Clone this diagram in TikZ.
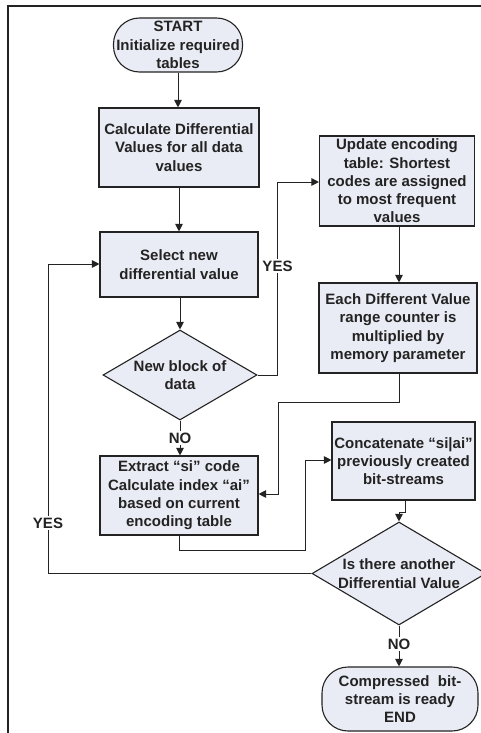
\documentclass[tikz,border=0pt]{standalone}
\usepackage{fontspec}
\setmainfont{Liberation Sans}
\usetikzlibrary{arrows.meta,shapes.geometric}
\definecolor{boxfill}{RGB}{233,236,244}
\definecolor{ink}{RGB}{35,35,35}
\begin{document}
\begin{tikzpicture}[x=1pt,y=-1pt,
  every node/.style={font=\bfseries\fontsize{15}{18.3}\selectfont, text=ink},
  procbox/.style={draw=ink, fill=boxfill, line width=1.1pt, align=center, inner sep=0pt},
  termbox/.style={procbox, rounded corners=26pt},
  decbox/.style={draw=ink, fill=boxfill, line width=1.1pt, shape=diamond, inner sep=0pt},
  txt/.style={align=center, inner sep=0pt},
  lbl/.style={fill=white, inner sep=1.5pt},
  conn/.style={draw=ink, line width=0.9pt},
  arr/.style={conn, -{Triangle[length=7.5pt,width=7.5pt]}}]

\useasboundingbox (0,0) rectangle (481,733);
\fill[white] (0,0) rectangle (481,733);

% page frame (top and left edges)
\draw[ink, line width=1.4pt] (481,6) -- (8,6) -- (8,733);

% left column
\node[termbox, minimum width=129pt, minimum height=54pt] (start) at (178,45)
  {START\\Initialize required\\tables};
\node[procbox, minimum width=160pt, minimum height=79pt] (calc) at (179,147.5)
  {Calculate Differential\\Values for all data\\values};
\node[procbox, minimum width=158pt, minimum height=65pt] (select) at (179,264.5)
  {Select new\\differential value};
\node[decbox, minimum width=154pt, minimum height=90pt] (blk) at (180,375) {};
\node[txt] (blktxt) at (blk) {New block of\\data};
\node[procbox, minimum width=158pt, minimum height=79pt] (extract) at (179,495.5)
  {Extract “si” code\\Calculate index “ai”\\based on current\\encoding table};

% right column
\node[procbox, minimum width=155pt, minimum height=90pt] (update) at (397,181)
  {Update encoding\\table: Shortest\\codes are assigned\\to most frequent\\values};
\node[procbox, minimum width=158pt, minimum height=90pt] (each) at (398,328)
  {Each Different Value\\range counter is\\multiplied by\\memory parameter};
\node[procbox, minimum width=143pt, minimum height=78pt] (concat) at (403.5,461)
  {Concatenate “si|ai”\\previously created\\bit-streams};
\node[decbox, minimum width=174pt, minimum height=103pt] (more) at (399,573.5) {};
\node[txt] (moretxt) at (more) {Is there another\\Differential Value};
\node[termbox, minimum width=156pt, minimum height=64pt] (finish) at (400,699)
  {Compressed\ \ bit-\\stream is ready\\END};

% junction points of the routed connectors
\coordinate (y1) at (277,375);
\coordinate (y2) at (277,182);
\coordinate (e1) at (399,402);
\coordinate (e2) at (278,402);
\coordinate (e3) at (278,494);
\coordinate (x1) at (179,550);
\coordinate (x2) at (305,550);
\coordinate (x3) at (305,460);
\coordinate (c1) at (405,512);
\coordinate (c2) at (399,512);
\coordinate (m1) at (48,573.5);
\coordinate (m2) at (48,264);

% straight flow
\draw[arr] (start.south) -- (start.south |- calc.north);
\draw[arr] (calc.south) -- (calc.south |- select.north);
\draw[arr] (select.south -| blk.north) -- (blk.north);
\draw[arr] (blk.south) -- (blk.south |- extract.north);
\draw[arr] (update.south -| e1) -- (e1 |- each.north);
\draw[arr] (more.south) -- (more.south |- finish.north);

% routed connectors
\draw[arr] (blk.east) -- (y1) -- (y2) -- (y2 -| update.west);
\draw[arr] (each.south -| e1) -- (e1) -- (e2) -- (e3) -- (e3 -| extract.east);
\draw[arr] (extract.south -| x1) -- (x1) -- (x2) -- (x3) -- (x3 -| concat.west);
\draw[arr] (concat.south -| c1) -- (c1) -- (c2) -- (more.north);
\draw[arr] (more.west) -- (m1) -- (m2) -- (m2 -| select.west);

% branch labels
\node[lbl] (yes1) at (277.5,266) {YES};
\node[lbl] (no1) at (blk.south |- 0,438) {NO};
\node[lbl] (yes2) at (48,523) {YES};
\node[lbl] (no2) at (more.south |- 0,644) {NO};
\end{tikzpicture}
\end{document}
